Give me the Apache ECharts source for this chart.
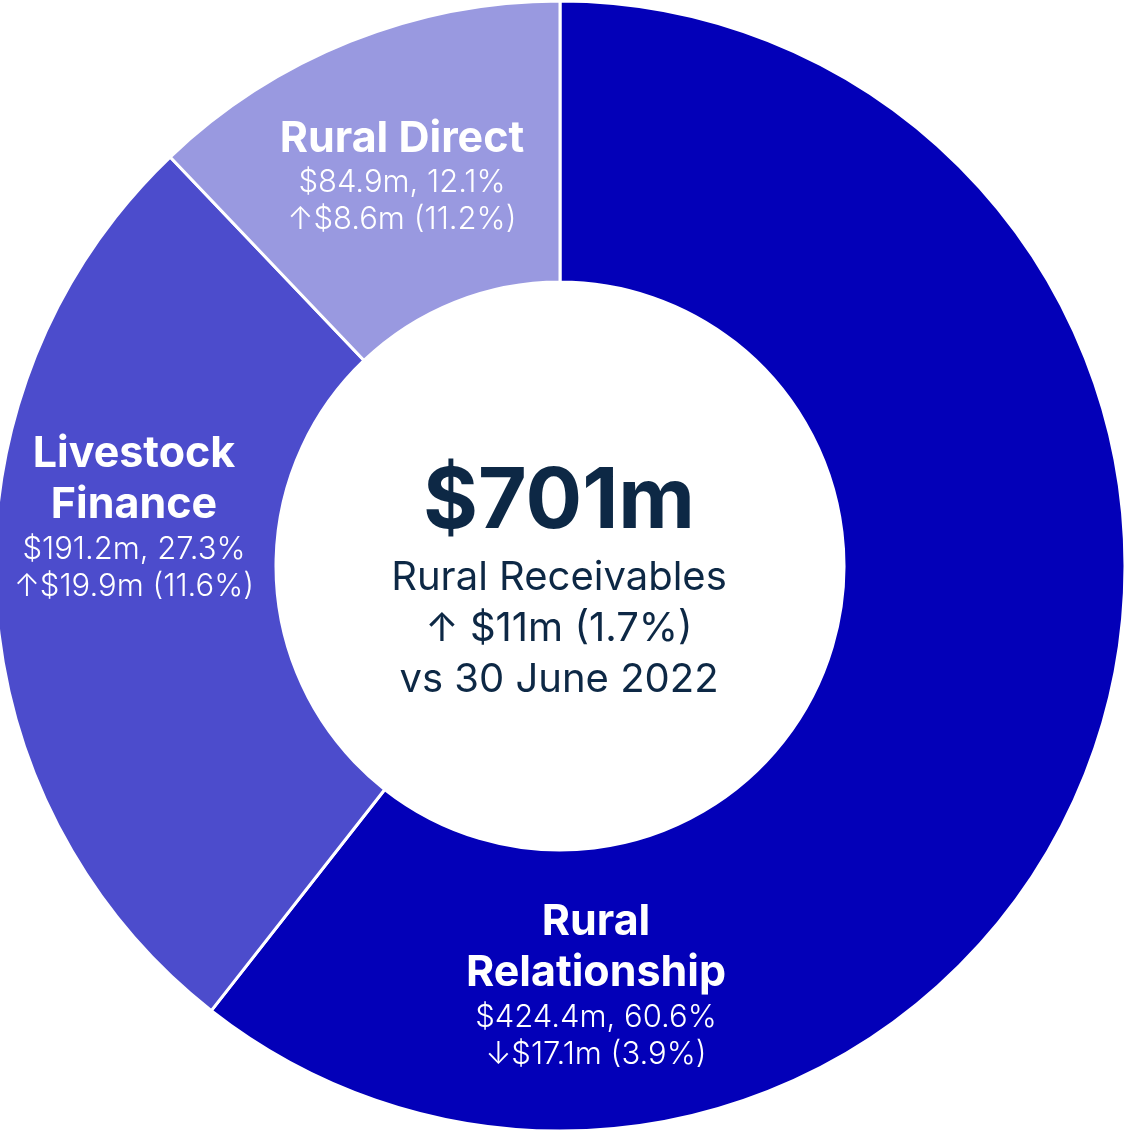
<!DOCTYPE html>
<html><head><meta charset="utf-8">
<script src="https://cdn.jsdelivr.net/npm/echarts@6/dist/echarts.min.js"></script>
<style>html,body{margin:0;padding:0;background:#fff}#c{width:1125px;height:1132px}</style>
</head><body><div id="c"></div>
<script>
var categories = ['Rural\nRelationship', 'Livestock\nFinance', 'Rural Direct'];
var values = [424.4, 191.2, 84.9];
var shares = [60.6, 27.3, 12.1];
var changeDir = ['down', 'up', 'up'];
var changeValues = [17.1, 19.9, 8.6];
var changePct = [3.9, 11.6, 11.2];
var colors = ['#0300B8', '#4C4CCC', '#9999E0'];
var totalValue = 701;
var totalChange = 11;
var totalChangePct = 1.7;
var totalLabel = 'Rural Receivables';
var compareLabel = 'vs 30 June 2022';

var labelPos = [[596, 985], [134, 517], [402, 176]];
var FONT = 'Inter, "Noto Sans", sans-serif';

var chart = echarts.init(document.getElementById('c'));
chart.setOption({
  animation: false,
  series: [{
    type: 'pie',
    center: [560, 566],
    radius: [284, 565],
    startAngle: 90,
    clockwise: true,
    avoidLabelOverlap: false,
    itemStyle: { borderColor: '#fff', borderWidth: 3 },
    data: categories.map(function (c, i) {
      return { name: c, value: values[i], itemStyle: { color: colors[i] } };
    }),
    label: {
      show: true,
      position: 'inside',
      fontFamily: FONT,
      color: '#fff',
      align: 'center',
      formatter: function (p) {
        var i = p.dataIndex;
        var t = categories[i].split('\n').map(function (s) { return '{t|' + s + '}'; }).join('\n');
        var arrow = changeDir[i] === 'up' ? '↑' : '↓';
        return t + '\n{s|$' + values[i].toFixed(1) + 'm, ' + shares[i].toFixed(1) + '%}\n{s|' + arrow + '$' + changeValues[i].toFixed(1) + 'm (' + changePct[i].toFixed(1) + '%)}';
      },
      rich: {
        t: { fontFamily: FONT, fontWeight: 'bold', fontSize: 43, lineHeight: 51, color: '#fff', align: 'center' },
        s: { fontFamily: FONT, fontWeight: 300, fontSize: 31, lineHeight: 37, color: '#fff', align: 'center' }
      }
    },
    labelLine: { show: false },
    labelLayout: function (p) {
      var pos = labelPos[p.dataIndex];
      return { x: pos[0], y: pos[1], align: 'center', verticalAlign: 'middle' };
    }
  }],
  graphic: [{
    type: 'text',
    style: {
      x: 0, y: 0,
      text: '{b|$' + totalValue + 'm}\n{n|' + totalLabel + '}\n{n|↑ $' + totalChange + 'm (' + totalChangePct + '%)}\n{n|' + compareLabel + '}',
      align: 'center',
      verticalAlign: 'middle',
      rich: {
        b: { fontFamily: FONT, fontWeight: 'bold', fontSize: 84, lineHeight: 100, fill: '#0D2845', align: 'center' },
        n: { fontFamily: FONT, fontWeight: 400, fontSize: 40, lineHeight: 51, fill: '#0D2845', align: 'center' }
      }
    },
    x: 559, y: 579
  }]
});
</script></body></html>
